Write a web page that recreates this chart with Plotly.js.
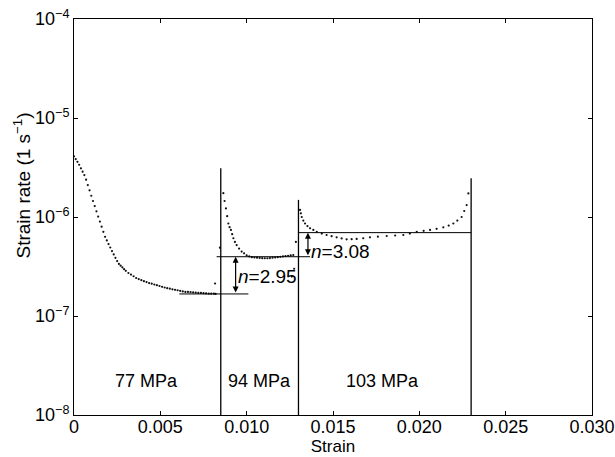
<!DOCTYPE html>
<html>
<head>
<meta charset="utf-8">
<script src="https://cdn.plot.ly/plotly-3.0.1.min.js"></script>
<style>html,body{margin:0;padding:0;background:#fff;}#chart{width:615px;height:457px;}</style>
</head>
<body>
<div id="chart"></div>
<script>
// 77 MPa stage
const strain77 = [0.0000,0.0001,0.0002,0.0003,0.0004,0.0005,0.0006,0.0007,0.0008,0.0009,0.0010,0.0011,0.0012,0.0013,0.0014,0.0015,0.0016,0.0017,0.0018,0.0019,0.0020,0.0021,0.0022,0.0023,0.0024,0.0025,0.0026,0.0027,0.0028,0.0029,0.0030,
  0.00315,0.0033,0.00345,0.0036,0.00375,0.0039,0.00405,0.0042,0.00435,0.0045,0.00465,0.0048,0.00495,0.0051,0.00525,0.0054,0.00555,0.0057,0.00585,0.0060,0.00615,0.0063,0.00645,0.0066,0.00675,0.0069,0.00705,0.0072,0.00735,0.0075,0.00765,0.0078,0.00795,0.0081,0.0082];
const rate77 = [4.10e-6,3.85e-6,3.61e-6,3.37e-6,3.10e-6,2.87e-6,2.65e-6,2.38e-6,2.10e-6,1.86e-6,1.64e-6,1.45e-6,1.29e-6,1.14e-6,1.01e-6,8.99e-7,7.98e-7,7.08e-7,6.30e-7,5.80e-7,5.33e-7,4.92e-7,4.53e-7,4.19e-7,3.87e-7,3.59e-7,3.36e-7,3.22e-7,3.10e-7,2.97e-7,2.86e-7,
  2.72e-7,2.62e-7,2.52e-7,2.42e-7,2.36e-7,2.30e-7,2.25e-7,2.20e-7,2.15e-7,2.12e-7,2.08e-7,2.05e-7,2.01e-7,1.97e-7,1.94e-7,1.91e-7,1.89e-7,1.86e-7,1.84e-7,1.82e-7,1.79e-7,1.77e-7,1.75e-7,1.75e-7,1.74e-7,1.73e-7,1.72e-7,1.71e-7,1.71e-7,1.70e-7,1.69e-7,1.68e-7,1.68e-7,1.68e-7,1.67e-7];
// 94 MPa stage
const strain94 = [0.00817,0.00845,0.00865,0.00872,0.0088,0.00887,0.00894,0.00901,0.00909,0.00916,0.00923,0.00932,0.00942,0.00956,0.00971,0.00985,0.0100,0.01015,0.0103,0.01045,0.0106,0.01075,0.0109,0.01105,0.0112,0.01135,0.0115,0.01165,0.0118,0.01195,0.0121,0.01225,0.0124,0.01255,0.0127,0.01261,0.01275,0.01285];
const rate94 = [2.13e-7,4.9e-7,1.74e-6,1.45e-6,1.22e-6,1.02e-6,8.6e-7,7.9e-7,7.4e-7,6.7e-7,6.1e-7,5.6e-7,5.2e-7,4.8e-7,4.47e-7,4.3e-7,4.1e-7,4.0e-7,3.93e-7,3.9e-7,3.88e-7,3.86e-7,3.84e-7,3.83e-7,3.83e-7,3.85e-7,3.88e-7,3.9e-7,3.93e-7,3.96e-7,4.0e-7,4.03e-7,4.06e-7,4.09e-7,4.13e-7,2.5e-7,3.0e-7,5.6e-7];
// 103 MPa stage
const strain103 = [0.01309,0.01314,0.01319,0.01328,0.01338,0.01352,0.01367,0.01386,0.01406,0.01435,0.01463,0.01492,0.01521,0.0155,0.01579,0.01608,0.01637,0.01675,0.01714,0.0176,0.01811,0.0186,0.01907,0.01945,0.01985,0.02025,0.02062,0.021,0.02139,0.0217,0.02197,0.0222,0.02245,0.0226,0.02274,0.02284];
const rate103 = [1.18e-6,1.09e-6,1.0e-6,9.2e-7,8.6e-7,8.1e-7,7.7e-7,7.4e-7,7.1e-7,6.8e-7,6.58e-7,6.4e-7,6.23e-7,6.08e-7,5.95e-7,5.97e-7,6.0e-7,6.1e-7,6.23e-7,6.33e-7,6.43e-7,6.5e-7,6.58e-7,6.8e-7,7.1e-7,7.25e-7,7.4e-7,7.6e-7,7.87e-7,8.2e-7,8.6e-7,9.2e-7,1.0e-6,1.15e-6,1.32e-6,1.73e-6];

// stress steps
const stepStrain = [0.0085, 0.0130, 0.0230];
const stepTop = [3.1e-6, 1.49e-6, 2.46e-6];
// steady-state levels
const levelRate = [1.67e-7, 3.97e-7, 6.95e-7];
const levelFrom = [0.0061, 0.00826, 0.0130];
const levelTo = [0.0101, 0.01367, 0.0230];
// exponent annotations
const nLabels = ['<i>n</i>=2.95', '<i>n</i>=3.08'];
const nArrowStrain = [0.00936, 0.01355];
const nLabelRate = [2.53e-7, 4.47e-7];
// stress labels
const stressLabels = ['77 MPa', '94 MPa', '103 MPa'];
const stressStrain = [0.0042, 0.01077, 0.01784];
const stressRate = 2.2e-8;

const xTicks = [0, 0.005, 0.010, 0.015, 0.020, 0.025, 0.030];
const xTickText = ['0', '0.005', '0.010', '0.015', '0.020', '0.025', '0.030'];
const yTicks = [1e-8, 1e-7, 1e-6, 1e-5, 1e-4];
const yTickText = ['10<sup>\u22128</sup>', '10<sup>\u22127</sup>', '10<sup>\u22126</sup>', '10<sup>\u22125</sup>', '10<sup>\u22124</sup>'];
const yTitle = 'Strain rate (1 s<sup>\u22121</sup>)';

const dot = {mode: 'markers', type: 'scatter', marker: {size: 2.2, color: '#111'}, hoverinfo: 'skip', showlegend: false};
const traces = [
  Object.assign({x: strain77, y: rate77}, dot),
  Object.assign({x: strain94, y: rate94}, dot),
  Object.assign({x: strain103, y: rate103}, dot)
];
stepStrain.forEach((s, i) => {
  traces.push({x: [s, s], y: [1e-8, stepTop[i]], mode: 'lines', type: 'scatter', line: {color: '#000', width: 1.3}, showlegend: false, hoverinfo: 'skip'});
});
levelRate.forEach((r, i) => {
  traces.push({x: [levelFrom[i], levelTo[i]], y: [r, r], mode: 'lines', type: 'scatter', line: {color: '#000', width: 1}, showlegend: false, hoverinfo: 'skip'});
});

const annotations = [];
nArrowStrain.forEach((s, i) => {
  annotations.push({x: s, y: Math.log10(levelRate[i + 1]), ax: s, ay: Math.log10(levelRate[i]), xref: 'x', yref: 'y', axref: 'x', ayref: 'y', text: '', showarrow: true, arrowhead: 2, arrowside: 'end+start', arrowsize: 1, arrowwidth: 1.2, arrowcolor: '#000', standoff: 0, startstandoff: 0});
  annotations.push({x: s + 0.00005, y: Math.log10(nLabelRate[i]), xref: 'x', yref: 'y', text: nLabels[i], showarrow: false, xanchor: 'left', yanchor: 'middle', font: {size: 19, color: '#000'}});
});
stressLabels.forEach((t, i) => {
  annotations.push({x: stressStrain[i], y: Math.log10(stressRate), xref: 'x', yref: 'y', text: t, showarrow: false, xanchor: 'center', yanchor: 'middle', font: {size: 18, color: '#000'}});
});
// y-axis title (placed off-centre, as in the reference)
annotations.push({x: -0.1, y: 0.58, xref: 'paper', yref: 'paper', text: yTitle, textangle: -90, showarrow: false, xanchor: 'center', yanchor: 'middle', font: {size: 19, color: '#000'}});

const axisCommon = {showline: true, mirror: 'ticks', linecolor: '#000', linewidth: 1, ticks: 'inside', ticklen: 4, tickcolor: '#000', showgrid: false, zeroline: false, tickfont: {size: 18, color: '#000'}};

const layout = {
  width: 615, height: 457,
  margin: {l: 74, r: 23, t: 19, b: 42},
  paper_bgcolor: '#fff', plot_bgcolor: '#fff',
  font: {family: '"Liberation Sans", Arial, Helvetica, sans-serif', color: '#000'},
  showlegend: false,
  xaxis: Object.assign({}, axisCommon, {range: [0, 0.030], tickvals: xTicks, ticktext: xTickText, ticklabelstandoff: -5, title: {text: 'Strain', font: {size: 17}, standoff: 2}}),
  yaxis: Object.assign({}, axisCommon, {type: 'log', range: [-8, -4], tickvals: yTicks, ticktext: yTickText}),
  annotations: annotations
};

Plotly.newPlot('chart', traces, layout, {staticPlot: true, displayModeBar: false});
</script>
</body>
</html>
